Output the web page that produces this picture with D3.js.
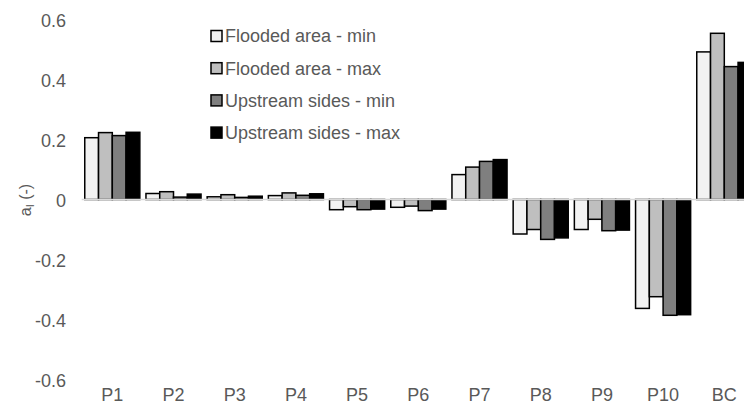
<!DOCTYPE html>
<html>
<head>
<meta charset="utf-8">
<script src="https://cdn.jsdelivr.net/npm/d3@7"></script>
<style>
  body { margin: 0; background: #fff; }
  svg { display: block; font-family: "Liberation Sans", Arial, sans-serif; }
  .tick text { fill: #595959; font-size: 18px; }
</style>
</head>
<body>
<div id="chart"></div>
<script>
// Data
const categories = ["P1", "P2", "P3", "P4", "P5", "P6", "P7", "P8", "P9", "P10", "BC"];
const seriesNames = ["Flooded area - min", "Flooded area - max", "Upstream sides - min", "Upstream sides - max"];
const floodedMin = [0.206, 0.020, 0.009, 0.013, -0.034, -0.026, 0.083, -0.115, -0.100, -0.363, 0.492];
const floodedMax = [0.223, 0.026, 0.016, 0.022, -0.024, -0.022, 0.108, -0.100, -0.066, -0.324, 0.554];
const upstreamMin = [0.213, 0.008, 0.007, 0.014, -0.034, -0.037, 0.127, -0.133, -0.104, -0.386, 0.443];
const upstreamMax = [0.224, 0.018, 0.011, 0.019, -0.032, -0.032, 0.133, -0.128, -0.102, -0.384, 0.457];
const yTicks = [-0.6, -0.4, -0.2, 0, 0.2, 0.4, 0.6];

const seriesValues = [floodedMin, floodedMax, upstreamMin, upstreamMax];
const fills = ["#f2f2f2", "#bfbfbf", "#7f7f7f", "#000000"];

const width = 744;
const height = 408;

const svg = d3.select("#chart")
  .append("svg")
  .attr("width", width)
  .attr("height", height);

// Scales
const x0 = d3.scaleBand()
  .domain(categories)
  .range([81.7, 754.9])
  .paddingInner(0.1)
  .paddingOuter(0.05);

const x1 = d3.scaleBand()
  .domain(d3.range(seriesNames.length))
  .range([0, x0.bandwidth()]);

const y = d3.scaleLinear()
  .domain([-0.6, 0.6])
  .range([379.5, 19.5]);

// Y axis (labels only)
const yAxis = svg.append("g")
  .attr("transform", "translate(70,0)")
  .call(d3.axisLeft(y)
    .tickValues(yTicks)
    .tickSize(0)
    .tickPadding(4)
    .tickFormat(d => d === 0 ? "0" : d.toFixed(1)));
yAxis.select(".domain").remove();
yAxis.selectAll("text").attr("dy", "0.4em");

// Bars
const groups = svg.append("g")
  .selectAll("g")
  .data(categories)
  .join("g")
  .attr("transform", d => "translate(" + x0(d) + ",0)");

groups.selectAll("rect")
  .data((c, i) => seriesValues.map((vals, s) => ({ s: s, v: vals[i] })))
  .join("rect")
  .attr("x", d => x1(d.s))
  .attr("width", x1.bandwidth())
  .attr("y", d => y(Math.max(0, d.v)))
  .attr("height", d => Math.abs(y(d.v) - y(0)))
  .attr("fill", d => fills[d.s])
  .attr("stroke", "#000")
  .attr("stroke-width", 1.5);

// Zero line
svg.append("line")
  .attr("x1", 81.7)
  .attr("x2", width)
  .attr("y1", y(0))
  .attr("y2", y(0))
  .attr("stroke", "#d9d9d9")
  .attr("stroke-width", 1.5);

// X axis labels
const xAxis = svg.append("g")
  .attr("transform", "translate(0,388)")
  .call(d3.axisBottom(x0).tickSize(0).tickPadding(0));
xAxis.select(".domain").remove();

// Y axis title
const yTitle = svg.append("text")
  .attr("transform", "translate(31,200) rotate(-90)")
  .attr("text-anchor", "middle")
  .attr("fill", "#595959")
  .attr("font-size", 16);
yTitle.append("tspan").text("a");
yTitle.append("tspan").attr("font-size", 11).attr("dy", 3).text("I");
yTitle.append("tspan").attr("dy", -3).text(" (-)");

// Legend
const legend = svg.append("g")
  .selectAll("g")
  .data(seriesNames)
  .join("g")
  .attr("transform", (d, i) => "translate(211," + (36 + i * 32.2) + ")");

legend.append("rect")
  .attr("x", 0)
  .attr("y", -5.5)
  .attr("width", 11)
  .attr("height", 11)
  .attr("fill", (d, i) => fills[i])
  .attr("stroke", "#000")
  .attr("stroke-width", 1.5);

legend.append("text")
  .attr("x", 14)
  .attr("dy", "0.36em")
  .attr("fill", "#595959")
  .attr("font-size", 18)
  .text(d => d);
</script>
</body>
</html>
